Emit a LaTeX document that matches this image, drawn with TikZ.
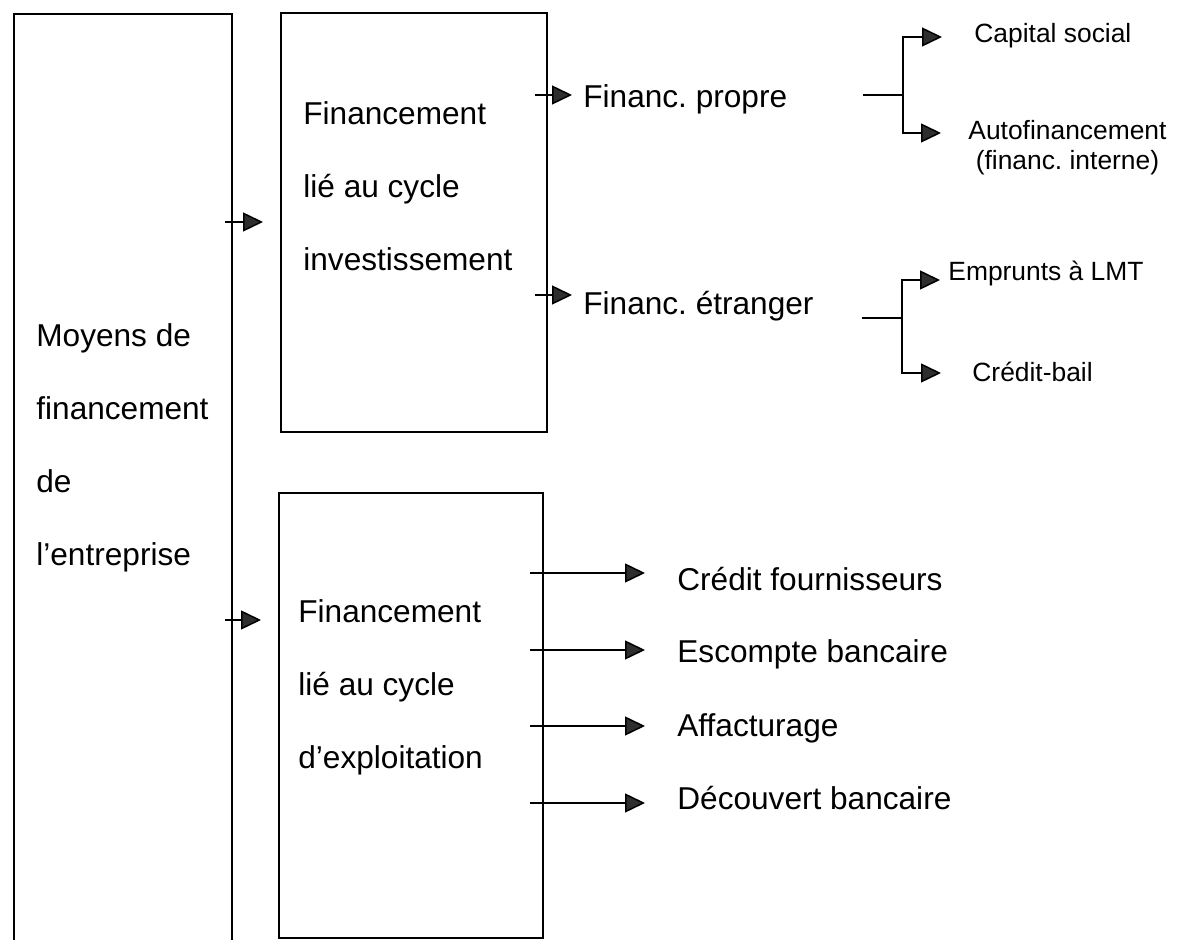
\documentclass[tikz,border=0pt]{standalone}
\usepackage{fontspec}
\setmainfont{Liberation Sans}
\usepackage{tikz}
\usetikzlibrary{positioning, arrows.meta}
\definecolor{tipgray}{HTML}{2E2E2E}
\frenchspacing

\tikzset{
  frame/.style={draw, line width=1pt, inner sep=0pt, anchor=north west},
  bigtext/.style={font=\fontsize{15.8}{18}\selectfont, inner sep=0pt, anchor=base west},
  smalltext/.style={font=\fontsize{13.2}{16}\selectfont, inner sep=0pt, anchor=base west},
  link/.style={line width=0.75pt},
  arr/.style={link, -{Triangle[length=10pt,width=9.5pt,fill=tipgray]}},
}

\begin{document}
\begin{tikzpicture}[x=0.5pt, y=-0.5pt]
    \useasboundingbox (0,0) rectangle (1180,940);

    % the three frames (the left one runs off the page at the bottom)
    \node[frame, minimum width=109pt, minimum height=470pt] (moyens) at (13,13) {};
    \node[frame, minimum width=133pt, minimum height=209.5pt] (invest) at (280,12) {};
    \node[frame, minimum width=132pt, minimum height=222.5pt] (exploit) at (278,492) {};

    \foreach \t [count=\i] in {Moyens de, financement, de, l’entreprise}
      \node[bigtext] (moy\i) at (36, {274+73*\i}) {\t};
    \foreach \t [count=\i] in {Financement, lié au cycle, investissement}
      \node[bigtext] (inv\i) at (303, {52+73*\i}) {\t};
    \foreach \t [count=\i] in {Financement, lié au cycle, d’exploitation}
      \node[bigtext] (exp\i) at (298, {550+73*\i}) {\t};

    % from the left frame to the two cycles
    \coordinate (m1) at (225,222);
    \coordinate (m2) at (225,620);
    \draw[arr, shorten >=8.5pt] (m1) -- (m1 -| invest.west);
    \draw[arr, shorten >=8.5pt] (m2) -- (m2 -| exploit.west);

    % investment cycle
    \node[bigtext] (propre) at (583,108) {Financ. propre};
    \node[bigtext] (etranger) at (583,315) {Financ. étranger};
    \coordinate (i1) at (535,95);
    \coordinate (i2) at (535,295);
    \draw[arr, shorten >=5.5pt] (i1) -- (i1 -| propre.west);
    \draw[arr, shorten >=5.5pt] (i2) -- (i2 -| etranger.west);

    \coordinate (b1) at (863,95);
    \coordinate (j1) at (903,95);
    \coordinate (tcap) at (942,37);
    \coordinate (tauto) at (941,133);
    \draw[link] (b1) -- (j1);
    \draw[arr] (j1) |- (tcap);
    \draw[arr] (j1) |- (tauto);
    \node[smalltext] (capital) at (974,43) {Capital social};
    \node[smalltext] (auto) at (968,140) {Autofinancement};
    \node[smalltext, anchor=base] (interne) at ([yshift=-15pt]auto.base) {(financ. interne)};

    \coordinate (b2) at (862,318);
    \coordinate (j2) at (902,318);
    \coordinate (temp) at (940,280);
    \coordinate (tbail) at (941,373);
    \draw[link] (b2) -- (j2);
    \draw[arr] (j2) |- (temp);
    \draw[arr] (j2) |- (tbail);
    \node[smalltext] (emprunts) at (948,281) {Emprunts à LMT};
    \node[smalltext] (bail) at (972,382) {Crédit-bail};

    % operating cycle
    \foreach \t/\y/\b [count=\i] in {Crédit fournisseurs/573/591, Escompte bancaire/650/663,
        Affacturage/726/737, Découvert bancaire/803/810} {
      \node[bigtext] (oper\i) at (677,\b) {\t};
      \coordinate (e\i) at (530,\y);
      \draw[arr, shorten >=16pt] (e\i) -- (e\i -| oper\i.west);
    }
  \end{tikzpicture}
\end{document}
